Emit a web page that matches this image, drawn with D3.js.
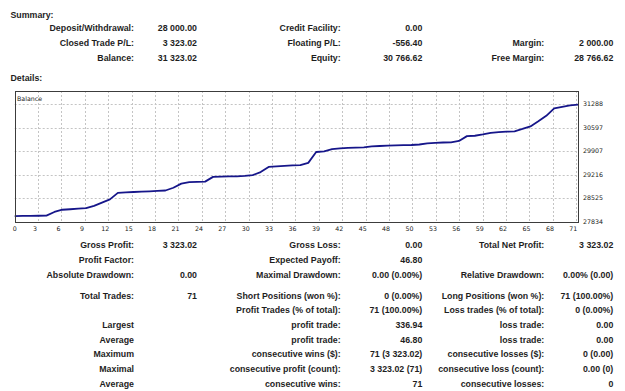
<!DOCTYPE html>
<html>
<head>
<meta charset="utf-8">
<script src="https://cdn.jsdelivr.net/npm/d3@7"></script>
<style>
    body { margin: 0; background: #fff; }
    svg { display: block; }
    .txt { font-family: "Liberation Sans", Arial, sans-serif; font-weight: bold; font-size: 8.8px; fill: #1e1e1e; }
    .axis { font-family: "DejaVu Sans", sans-serif; font-size: 6.3px; fill: #222; }
</style>
</head>
<body>
<svg id="chart" width="625" height="391"></svg>
<script>
// trade index ticks and balance scale ticks, as printed on the chart
const xTickLabels = [0, 3, 6, 9, 12, 15, 18, 21, 24, 27, 30, 33, 36, 39, 42, 45, 48, 50, 53, 56, 59, 62, 65, 68, 71]
const yTickLabels = [27834, 28525, 29216, 29907, 30597, 31288]

// balance after each trade (index 0 = deposit)
const balance = [
    28000, 28003, 28006, 28008, 28012, 28120, 28185, 28200, 28215, 28230,
    28300, 28395, 28490, 28680, 28695, 28705, 28716, 28726, 28736, 28750,
    28830, 28950, 28995, 29003, 29010, 29150, 29158, 29162, 29166, 29180,
    29200, 29290, 29440, 29455, 29470, 29485, 29495, 29560, 29880, 29900,
    29965, 29985, 30000, 30010, 30018, 30042, 30055, 30065, 30075, 30080,
    30085, 30100, 30130, 30150, 30158, 30163, 30205, 30345, 30356, 30395,
    30440, 30460, 30475, 30487, 30555, 30630, 30780, 30940, 31160, 31205,
    31250, 31270
]

const summaryRows = [
    ["Deposit/Withdrawal:", "28 000.00", "Credit Facility:", "0.00", "", ""],
    ["Closed Trade P/L:", "3 323.02", "Floating P/L:", "-556.40", "Margin:", "2 000.00"],
    ["Balance:", "31 323.02", "Equity:", "30 766.62", "Free Margin:", "28 766.62"]
]

const detailRows = [
    ["Gross Profit:", "3 323.02", "Gross Loss:", "0.00", "Total Net Profit:", "3 323.02"],
    ["Profit Factor:", "", "Expected Payoff:", "46.80", "", ""],
    ["Absolute Drawdown:", "0.00", "Maximal Drawdown:", "0.00 (0.00%)", "Relative Drawdown:", "0.00% (0.00)"],
    ["Total Trades:", "71", "Short Positions (won %):", "0 (0.00%)", "Long Positions (won %):", "71 (100.00%)"],
    ["", "", "Profit Trades (% of total):", "71 (100.00%)", "Loss trades (% of total):", "0 (0.00%)"],
    ["Largest", "", "profit trade:", "336.94", "loss trade:", "0.00"],
    ["Average", "", "profit trade:", "46.80", "loss trade:", "0.00"],
    ["Maximum", "", "consecutive wins ($):", "71 (3 323.02)", "consecutive losses ($):", "0 (0.00)"],
    ["Maximal", "", "consecutive profit (count):", "3 323.02 (71)", "consecutive loss (count):", "0.00 (0)"],
    ["Average", "", "consecutive wins:", "71", "consecutive losses:", "0"]
]

// layout
const COL_RIGHT = [134, 197, 340.7, 422.3, 544.3, 613.3]
const SUMMARY_Y = [28.3, 43, 58]
const DETAIL_Y = [245, 259.7, 275, 295.7, 310, 325, 339.7, 354.3, 369, 383.7]
const frame = {left: 14.7, right: 578, top: 91, bottom: 221.7}
const GRID_STEP = 23.4

const svg = d3.select("#chart")

function heading(text, y) {
    svg.append("text").attr("class", "txt").attr("x", 10.5).attr("y", y + 3).text(text)
}

function table(rows, ys) {
    rows.forEach((row, r) => {
        svg.append("g").selectAll("text")
            .data(row)
            .enter()
            .append("text")
            .attr("class", "txt")
            .attr("text-anchor", "end")
            .attr("x", (d, i) => COL_RIGHT[i])
            .attr("y", ys[r] + 3)
            .text(d => d)
    })
}

heading("Summary:", 15)
table(summaryRows, SUMMARY_Y)
heading("Details:", 77.7)
table(detailRows, DETAIL_Y)

// chart
const x = d3.scaleLinear().domain([0, balance.length - 1]).range([frame.left, frame.right])
const xTick = d3.scalePoint().domain(xTickLabels).range([frame.left, frame.left + GRID_STEP * (xTickLabels.length - 1)])
const y = d3.scaleLinear().domain([yTickLabels[0], yTickLabels[yTickLabels.length - 1]]).range([frame.bottom, 104])

const grid = svg.append("g")
    .attr("stroke", "#c4c4c4")
    .attr("stroke-width", 1)
    .attr("stroke-dasharray", "2,2")

grid.selectAll("line.v")
    .data(xTickLabels.slice(1))
    .enter()
    .append("line")
    .attr("x1", d => Math.round(xTick(d)) + 0.5)
    .attr("x2", d => Math.round(xTick(d)) + 0.5)
    .attr("y1", frame.top)
    .attr("y2", frame.bottom)

grid.selectAll("line.h")
    .data(yTickLabels.slice(1))
    .enter()
    .append("line")
    .attr("x1", frame.left)
    .attr("x2", frame.right)
    .attr("y1", d => Math.round(y(d)) + 0.5)
    .attr("y2", d => Math.round(y(d)) + 0.5)

svg.append("path")
    .datum(balance)
    .attr("fill", "none")
    .attr("stroke", "#16168a")
    .attr("stroke-width", 1.8)
    .attr("stroke-linejoin", "round")
    .attr("d", d3.line().x((d, i) => x(i)).y(d => y(d)))

svg.append("rect")
    .attr("x", Math.round(frame.left) + 0.5)
    .attr("y", frame.top + 0.5)
    .attr("width", Math.round(frame.right - frame.left))
    .attr("height", Math.round(frame.bottom - frame.top))
    .attr("fill", "none")
    .attr("stroke", "#3c3c3c")

svg.append("text").attr("class", "axis")
    .attr("x", 17).attr("y", 100.5).text("Balance")

svg.append("g").selectAll("text")
    .data(xTickLabels)
    .enter()
    .append("text")
    .attr("class", "axis")
    .attr("text-anchor", "middle")
    .attr("x", (d, i) => i === 0 ? frame.left : xTick(d) - 3)
    .attr("y", 230.5)
    .text(d => d)

svg.append("g").selectAll("text")
    .data(yTickLabels)
    .enter()
    .append("text")
    .attr("class", "axis")
    .attr("x", 583)
    .attr("y", d => y(d) + 2.3)
    .text(d => d)
</script>
</body>
</html>
